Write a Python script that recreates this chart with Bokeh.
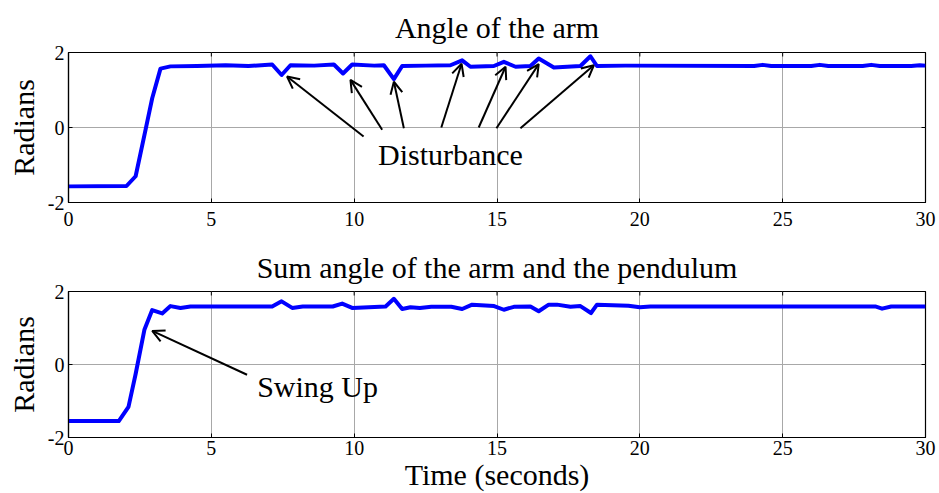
import math
from bokeh.plotting import figure
from bokeh.layouts import column
from bokeh.models import Range1d, FixedTicker, Arrow, OpenHead, Label
from bokeh.embed import file_html
from bokeh.resources import INLINE

# ---- data ----
t_arm = [0.0, 2.03, 2.35, 2.70, 2.93, 3.22, 3.57, 4.5, 5.5, 6.3, 7.13, 7.46, 7.77,
         8.6, 9.29, 9.61, 9.93, 10.7, 11.04, 11.39, 11.68, 12.5, 13.37, 13.78, 14.07,
         14.89, 15.24, 15.65, 16.17, 16.46, 16.99, 17.92, 18.27, 18.5, 19.5, 24.0,
         24.3, 24.6, 26.0, 26.3, 26.6, 27.8, 28.1, 28.4, 29.5, 29.8, 30.0]
arm_angle = [-1.57, -1.56, -1.30, -0.05, 0.78, 1.57, 1.63, 1.64, 1.66, 1.64, 1.68, 1.40, 1.66,
             1.65, 1.68, 1.44, 1.68, 1.65, 1.66, 1.29, 1.64, 1.65, 1.66, 1.79, 1.62,
             1.64, 1.75, 1.62, 1.64, 1.84, 1.60, 1.64, 1.90, 1.64, 1.65, 1.64,
             1.67, 1.64, 1.64, 1.67, 1.64, 1.64, 1.67, 1.64, 1.64, 1.66, 1.65]

t_sum = [0.0, 1.76, 2.10, 2.35, 2.66, 2.93, 3.28, 3.57, 3.92, 4.27, 7.13, 7.46, 7.83,
         8.2, 9.25, 9.58, 9.93, 11.1, 11.39, 11.68, 11.97, 12.3, 12.7, 13.4, 13.78,
         14.13, 14.9, 15.24, 15.59, 16.17, 16.46, 16.81, 17.1, 17.57, 17.92, 18.29,
         18.5, 19.6, 20.0, 20.37, 28.24, 28.48, 28.8, 30.0]
sum_angle = [-1.55, -1.55, -1.16, -0.26, 0.96, 1.49, 1.40, 1.60, 1.55, 1.59, 1.59, 1.73, 1.55,
             1.59, 1.59, 1.67, 1.55, 1.59, 1.80, 1.52, 1.57, 1.55, 1.58, 1.58, 1.52,
             1.64, 1.60, 1.50, 1.58, 1.59, 1.46, 1.64, 1.64, 1.58, 1.60, 1.41,
             1.64, 1.61, 1.57, 1.59, 1.59, 1.53, 1.59, 1.59]

x_ticks = [0, 5, 10, 15, 20, 25, 30]
y_ticks = [-2, 0, 2]
y_tick_labels = {-2: "-2", 0: "0", 2: "2"}
x_lim = (0, 30)
y_lim = (-2, 2)

FONT = "Liberation Serif"
W = 939


def make_fig(height, border_top, border_bottom, title, title_standoff, tick_standoff):
    p = figure(width=W, height=height, output_backend="svg", toolbar_location=None,
               x_range=Range1d(*x_lim), y_range=Range1d(*y_lim),
               min_border_left=68, min_border_right=14,
               min_border_top=border_top, min_border_bottom=border_bottom,
               title=title)
    p.title.align = "center"
    p.title.text_font = FONT
    p.title.text_font_size = "30px"
    p.title.text_font_style = "normal"
    p.title.text_color = "black"
    p.title.standoff = title_standoff
    xax = p.below[0]
    yax = p.left[0]
    for ax in (xax, yax):
        ax.major_label_text_font = FONT
        ax.major_label_text_font_size = "20px"
        ax.major_label_text_color = "black"
        ax.major_tick_in = 4
        ax.major_tick_out = 0
        ax.minor_tick_in = 0
        ax.minor_tick_out = 0
        ax.axis_line_color = "black"
        ax.axis_line_width = 1.2
        ax.major_tick_line_color = "black"
    xax.ticker = FixedTicker(ticks=x_ticks)
    yax.ticker = FixedTicker(ticks=y_ticks)
    yax.major_label_overrides = y_tick_labels
    yax.axis_label = "Radians"
    yax.axis_label_text_font = FONT
    yax.axis_label_text_font_size = "30px"
    yax.axis_label_text_font_style = "normal"
    yax.axis_label_text_color = "black"
    yax.axis_label_standoff = 5
    yax.major_label_standoff = 4
    xax.major_label_standoff = tick_standoff
    p.outline_line_color = "black"
    p.outline_line_width = 1.2
    p.background_fill_color = "white"
    p.border_fill_color = "white"
    for g in (p.xgrid[0], p.ygrid[0]):
        g.grid_line_color = "#a8a8a8"
        g.grid_line_width = 1
    p.xgrid[0].ticker = FixedTicker(ticks=x_ticks)
    p.ygrid[0].ticker = FixedTicker(ticks=y_ticks)
    # mirrored inward tick marks on the top and right edges (clipped to the frame)
    p.scatter(x=x_ticks, y=[y_lim[1]] * len(x_ticks), marker="dash", angle=math.pi / 2,
              size=8, line_color="black", line_width=1)
    p.scatter(x=[x_lim[1]] * len(y_ticks), y=y_ticks, marker="dash",
              size=8, line_color="black", line_width=1)
    return p, xax


# ---- top panel ----
p1, _ = make_fig(240, 51, 38, "Angle of the arm", 17, 9)
p1.line(t_arm, arm_angle, line_color="#0000ff", line_width=4, line_join="round")

dist_arrows = [((10.33, -0.24), (7.65, 1.36)),
               ((10.98, -0.06), (9.87, 1.27)),
               ((11.74, -0.02), (11.39, 1.22)),
               ((13.05, 0.0), (13.76, 1.70)),
               ((14.36, 0.0), (15.30, 1.62)),
               ((14.98, -0.02), (16.46, 1.69)),
               ((15.82, -0.02), (18.39, 1.66))]
for (xs, ys), (xe, ye) in dist_arrows:
    p1.add_layout(Arrow(end=OpenHead(size=12, line_width=2, line_color="black"),
                        x_start=xs, y_start=ys, x_end=xe, y_end=ye,
                        line_width=2, line_color="black"))
p1.add_layout(Label(x=13.37, y=-0.72, text="Disturbance", text_font=FONT,
                    text_font_size="30px", text_align="center", text_baseline="middle",
                    text_color="black"))

# ---- bottom panel ----
p2, xax2 = make_fig(253, 50, 55, "Sum angle of the arm and the pendulum", 16, 3)
p2.line(t_sum, sum_angle, line_color="#0000ff", line_width=4, line_join="round")
xax2.axis_label = "Time (seconds)"
xax2.axis_label_text_font = FONT
xax2.axis_label_text_font_size = "30px"
xax2.axis_label_text_font_style = "normal"
xax2.axis_label_text_color = "black"
xax2.axis_label_standoff = 0
p2.add_layout(Arrow(end=OpenHead(size=12, line_width=2, line_color="black"),
                    x_start=6.25, y_start=-0.28, x_end=2.93, y_end=0.92,
                    line_width=2, line_color="black"))
p2.add_layout(Label(x=8.72, y=-0.60, text="Swing Up", text_font=FONT,
                    text_font_size="30px", text_align="center", text_baseline="middle",
                    text_color="black"))

layout = column(p1, p2, spacing=0)
open("out.html", "w").write(file_html(layout, INLINE))
